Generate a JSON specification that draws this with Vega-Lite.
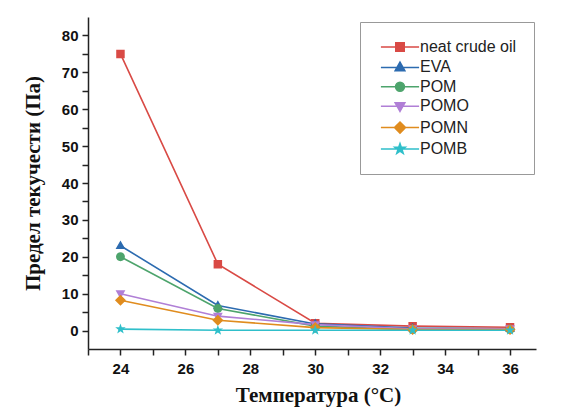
{
  "$schema": "https://vega.github.io/schema/vega-lite/v6.json",
  "width": 448,
  "height": 332,
  "autosize": {"type": "none"},
  "padding": {"left": 88, "top": 17, "right": 36, "bottom": 68},
  "background": "white",
  "config": {
    "view": {"stroke": null},
    "axis": {
      "grid": false,
      "domainColor": "#222",
      "domainWidth": 1.5,
      "tickColor": "#222",
      "tickWidth": 1.5,
      "labelFont": "Liberation Sans",
      "labelFontWeight": "bold",
      "labelFontSize": 15,
      "labelColor": "#111",
      "titleFont": "Liberation Serif",
      "titleFontWeight": "bold",
      "titleFontSize": 21,
      "titleColor": "#111"
    }
  },
  "data": {
    "values": [
      {"series": "neat crude oil", "T": 24, "v": 75},
      {"series": "neat crude oil", "T": 27, "v": 18},
      {"series": "neat crude oil", "T": 30, "v": 2},
      {"series": "neat crude oil", "T": 33, "v": 1.2},
      {"series": "neat crude oil", "T": 36, "v": 0.9},
      {"series": "EVA", "T": 24, "v": 23},
      {"series": "EVA", "T": 27, "v": 6.8},
      {"series": "EVA", "T": 30, "v": 1.8},
      {"series": "EVA", "T": 33, "v": 0.7},
      {"series": "EVA", "T": 36, "v": 0.5},
      {"series": "POM", "T": 24, "v": 20},
      {"series": "POM", "T": 27, "v": 6},
      {"series": "POM", "T": 30, "v": 1.2},
      {"series": "POM", "T": 33, "v": 0.3},
      {"series": "POM", "T": 36, "v": 0.3},
      {"series": "POMO", "T": 24, "v": 10},
      {"series": "POMO", "T": 27, "v": 3.9},
      {"series": "POMO", "T": 30, "v": 1.6},
      {"series": "POMO", "T": 33, "v": 0.5},
      {"series": "POMO", "T": 36, "v": 0.5},
      {"series": "POMN", "T": 24, "v": 8.2},
      {"series": "POMN", "T": 27, "v": 2.8},
      {"series": "POMN", "T": 30, "v": 0.8},
      {"series": "POMN", "T": 33, "v": 0.3},
      {"series": "POMN", "T": 36, "v": 0.3},
      {"series": "POMB", "T": 24, "v": 0.4},
      {"series": "POMB", "T": 27, "v": 0.1},
      {"series": "POMB", "T": 30, "v": 0.1},
      {"series": "POMB", "T": 33, "v": 0.1},
      {"series": "POMB", "T": 36, "v": 0.1}
    ]
  },
  "encoding": {
    "x": {
      "field": "T", "type": "quantitative",
      "scale": {"domain": [23, 36.8], "nice": false, "zero": false},
      "axis": {
        "title": "Температура (°C)",
        "titleX": 230,
        "values": [23, 24, 25, 26, 27, 28, 29, 30, 31, 32, 33, 34, 35, 36],
        "labelExpr": "datum.value % 2 == 0 ? datum.label : ''",
        "tickSize": 6,
        "labelPadding": 6,
        "titlePadding": 8,
        "encode": {"ticks": {"y2": {"value": {"expr": "datum.value % 2 == 0 ? 6 : 3"}}}}
      }
    },
    "y": {
      "field": "v", "type": "quantitative",
      "scale": {"domain": [-5, 85], "nice": false, "zero": false},
      "axis": {
        "title": "Предел текучести (Па)",
        "values": [0, 5, 10, 15, 20, 25, 30, 35, 40, 45, 50, 55, 60, 65, 70, 75, 80],
        "labelExpr": "datum.value % 10 == 0 ? datum.label : ''",
        "tickSize": 6,
        "labelPadding": 4,
        "titlePadding": 18,
        "encode": {"ticks": {"x2": {"value": {"expr": "datum.value % 10 == 0 ? -6 : -3"}}}}
      }
    }
  },
  "layer": [
    {
      "mark": {"type": "line", "strokeWidth": 1.6},
      "encoding": {
        "color": {
          "field": "series", "type": "nominal",
          "scale": {
            "domain": ["neat crude oil", "EVA", "POM", "POMO", "POMN", "POMB"],
            "range": ["#d94a45", "#2c6bb0", "#4da46c", "#b07fd6", "#e08c1e", "#2fbfca"]
          }
        }
      }
    },
    {
      "mark": {"type": "point", "filled": true, "opacity": 1, "size": 72},
      "encoding": {
        "color": {
          "field": "series", "type": "nominal",
          "scale": {
            "domain": ["neat crude oil", "EVA", "POM", "POMO", "POMN", "POMB"],
            "range": ["#d94a45", "#2c6bb0", "#4da46c", "#b07fd6", "#e08c1e", "#2fbfca"]
          },
          "legend": {
            "title": null,
            "orient": "none",
            "legendX": 272,
            "legendY": 5,
            "padding": 17,
            "strokeColor": "#999",
            "labelFont": "Liberation Sans",
            "labelFontSize": 16,
            "labelColor": "#222",
            "labelOffset": 12,
            "symbolOffset": 15,
            "symbolSize": 72,
            "rowPadding": 3.4
          }
        },
        "shape": {
          "field": "series", "type": "nominal",
          "scale": {
            "domain": ["neat crude oil", "EVA", "POM", "POMO", "POMN", "POMB"],
            "range": [
              "M-4.5,0H4.5M-1,-1H1V1H-1Z",
              "M-4.5,0H4.5M0,-1.25L1.15,0.8H-1.15Z",
              "M-4.5,0H4.5M-1.05,0A1.05,1.05 0 1,0 1.05,0A1.05,1.05 0 1,0 -1.05,0Z",
              "M-4.5,0H4.5M0,1.25L1.15,-0.8H-1.15Z",
              "M-4.5,0H4.5M0,-1.3L1.3,0L0,1.3L-1.3,0Z",
              "M-4.5,0H4.5M0,-1.3L0.306,-0.421L1.236,-0.402L0.495,0.161L0.764,1.052L0,0.52L-0.764,1.052L-0.495,0.161L-1.236,-0.402L-0.306,-0.421Z"
            ]
          },
          "legend": {
            "title": null,
            "orient": "none",
            "legendX": 272,
            "legendY": 5,
            "padding": 17,
            "strokeColor": "#999",
            "labelFont": "Liberation Sans",
            "labelFontSize": 16,
            "labelColor": "#222",
            "labelOffset": 12,
            "symbolOffset": 15,
            "symbolSize": 72,
            "rowPadding": 3.4
          }
        }
      }
    }
  ]
}
